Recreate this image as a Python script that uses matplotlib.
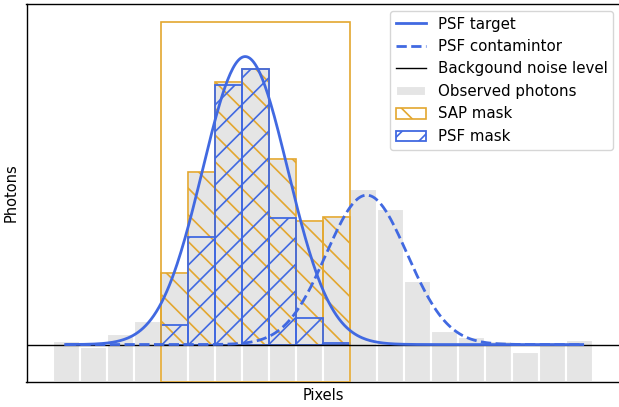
import numpy as np
import matplotlib
matplotlib.use("Agg")
import matplotlib.pyplot as plt

DPI = 80
S = 100 / DPI  # point scale so that sizes look as at 100 dpi
plt.rcParams["hatch.linewidth"] = 1.2 * S

# ---- data ----
pixels = np.arange(20)
observed = [11.4, 9.7, 13.3, 16.9, 30.3, 58.3, 83.3, 86.9, 61.9, 44.7,
            45.8, 53.6, 48.1, 28.1, 14.2, 12.5, 11.4, 8.3, 11.1, 11.7]
sap_pixels = [4, 5, 6, 7, 8, 9, 10]
sap_values = [30.3, 58.3, 83.3, 86.9, 61.9, 44.7, 45.8]
psf_pixels = [4, 5, 6, 7, 8, 9, 10]
psf_values = [15.8, 40.3, 82.6, 86.9, 45.6, 17.8, 10.8]
noise_level = 10.4
aperture_start, aperture_end, aperture_height = 3.5, 10.5, 100.0
target_amp, target_mu, target_sigma = 80.0, 6.6, 1.58
contam_amp, contam_mu, contam_sigma = 41.5, 11.1, 1.5

BLUE = "#4169E1"
ORANGE = "#E3A72F"
GRAY = "#e5e5e5"

fig = plt.figure(figsize=(619 / DPI, 407 / DPI), dpi=DPI)
ax = fig.add_axes([26.5 / 619, 25 / 407, 594 / 619, 378 / 407])

ax.bar(pixels, observed, width=1.0, color=GRAY, edgecolor="white",
       linewidth=1.5 * S, label="Observed photons", zorder=1)
ax.bar(sap_pixels, np.array(sap_values) - noise_level, bottom=noise_level,
       width=1.0, fill=False, edgecolor=ORANGE, hatch="\\",
       linewidth=1.2 * S, label="SAP mask", zorder=2)
ax.bar(psf_pixels, np.array(psf_values) - noise_level, bottom=noise_level,
       width=1.0, fill=False, edgecolor=BLUE, hatch="/",
       linewidth=1.3 * S, label="PSF mask", zorder=3)
ax.bar([(aperture_start + aperture_end) / 2], [aperture_height],
       width=aperture_end - aperture_start, fill=False, edgecolor=ORANGE,
       linewidth=1.2 * S, zorder=3)

x = np.linspace(-0.05, 19.1, 400)
target = noise_level + target_amp * np.exp(-(x - target_mu) ** 2 / (2 * target_sigma ** 2))
contam = noise_level + contam_amp * np.exp(-(x - contam_mu) ** 2 / (2 * contam_sigma ** 2))

ax.plot(x, target, color=BLUE, lw=2 * S, label="PSF target", zorder=5)
ax.plot(x, contam, color=BLUE, lw=2 * S, ls="--", label="PSF contamintor", zorder=5)
ax.axhline(noise_level, color="black", lw=1 * S, label="Backgound noise level", zorder=4)

ax.set_xlim(-1.5, 20.5)
ax.set_ylim(0, aperture_height * 1.05)
ax.set_xticks([])
ax.set_yticks([])
for side in ["left", "bottom", "top"]:
    ax.spines[side].set_linewidth(1.0 * S)
ax.spines["right"].set_visible(False)
ax.set_xlabel("Pixels", fontsize=10.5 * S, labelpad=4 * S)
ax.set_ylabel("Photons", fontsize=10.5 * S, labelpad=6 * S)

handles, labels = ax.get_legend_handles_labels()
order = ["PSF target", "PSF contamintor", "Backgound noise level",
         "Observed photons", "SAP mask", "PSF mask"]
hmap = dict(zip(labels, handles))
leg = ax.legend([hmap[k] for k in order], order, loc="upper right",
                bbox_to_anchor=(621 / 619, 1 - 3 / 407), bbox_transform=fig.transFigure,
                fontsize=10.8 * S, framealpha=0.8)
leg.get_frame().set_linewidth(1.0 * S)

fig.savefig("out.png", dpi=DPI)
